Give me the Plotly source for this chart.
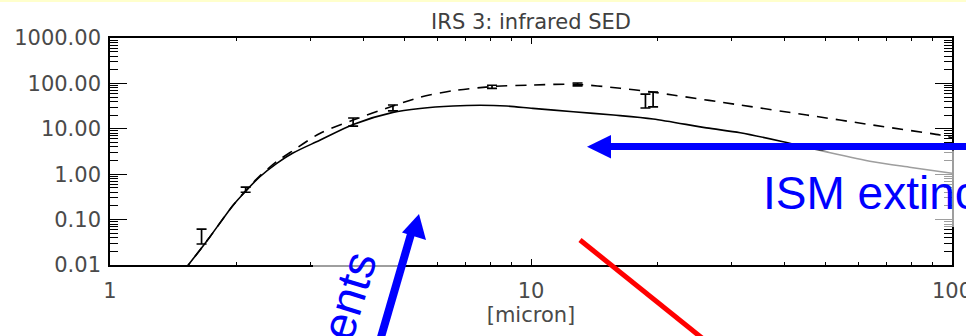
import plotly.graph_objects as go

# ---------------- data ----------------
model_x = [1.5, 1.535, 1.636, 1.728, 1.963, 2.104, 2.27, 2.49, 2.72, 3.15, 3.78, 4.7,
           5.45, 6.53, 7.57, 8.75, 10.1, 12.6, 15.7, 19.5, 26.1, 31.4, 39.7, 50.4, 64.9, 80, 100]
model_solid = [0.007, 0.01, 0.0214, 0.042, 0.21, 0.43, 0.88, 1.74, 2.93, 5.6, 12.5, 23.0,
               28.0, 31.8, 33, 31.8, 28.2, 23.8, 20.1, 16.5, 10.5, 8.2, 5.2, 3.1, 1.88, 1.41, 1.05]

dashed_x = [1.5, 1.535, 1.636, 1.728, 1.963, 2.104, 2.27, 2.49, 2.72, 3.15, 3.78, 4.7,
            5.45, 6.53, 8.06, 10.1, 12.8, 16.3, 19.2, 21.7, 31.4, 45.2, 64.9, 93.6, 100]
model_dashed = [0.007, 0.01, 0.0214, 0.042, 0.21, 0.44, 0.92, 1.9, 3.3, 7.9, 15.6, 31.8,
                49.5, 69, 85, 92, 95.6, 78, 65.6, 55.6, 33.4, 20.1, 12.1, 7.3, 6.4]

obs_x = [1.65, 2.1, 3.78, 4.7, 8.08, 12.9, 18.7, 19.5]
obs_y = [0.042, 0.46, 14.0, 29.0, 84.0, 95.0, 41.0, 44.0]
obs_err_plus = [0.020, 0.06, 3.3, 4.4, 7.0, 7.0, 17.0, 20.6]
obs_err_minus = [0.013, 0.06, 2.5, 4.3, 6.0, 7.0, 12.3, 13.7]

x_tickvals = [1, 10, 100]
x_ticktext = ["1", "10", "100"]
y_tickvals = [0.01, 0.1, 1, 10, 100, 1000]
y_ticktext = ["0.01", "0.10", "1.00", "10.00", "100.00", "1000.00"]
minor_digits = [1, 2, 3, 4, 5, 6, 7, 8, 9]

title_text = "IRS 3: infrared SED"
xaxis_title = "[micron]"
label_ism = "ISM extinction"
label_ents = "ents"

# ---------------- layout geometry ----------------
W, H = 966, 336
L, R, T, B = 110, 14, 38, 71
PW, PH = W - L - R, H - T - B


def px(xp):
    return (xp - L) / PW


def py(yp):
    return (H - B - yp) / PH


def all_ticks(decades):
    vals = []
    for d in decades:
        for m in minor_digits:
            v = d * m
            if v <= decades[-1]:
                vals.append(v)
    return vals


x_all = all_ticks(x_tickvals)
y_all = all_ticks(y_tickvals)
x_labels = [x_ticktext[x_tickvals.index(v)] if v in x_tickvals else "" for v in x_all]
y_labels = [y_ticktext[y_tickvals.index(v)] if v in y_tickvals else "" for v in y_all]

fig = go.Figure()

fig.add_trace(go.Scatter(x=model_x, y=model_solid, mode="lines",
                         line=dict(color="black", width=1.6, shape="spline", smoothing=0.8),
                         showlegend=False))
fig.add_trace(go.Scatter(x=dashed_x, y=model_dashed, mode="lines",
                         line=dict(color="black", width=1.6, dash="11px,8px",
                                   shape="spline", smoothing=0.8),
                         showlegend=False))
fig.add_trace(go.Scatter(x=obs_x, y=obs_y, mode="markers",
                         marker=dict(size=2, color="rgba(0,0,0,0)"),
                         error_y=dict(type="data", symmetric=False, array=obs_err_plus,
                                      arrayminus=obs_err_minus, color="black",
                                      thickness=1.7, width=5),
                         showlegend=False))
# invisible trace so the overlay axes (major ticks) are drawn
fig.add_trace(go.Scatter(x=[1, 100], y=[0.01, 1000], xaxis="x2", yaxis="y2", mode="markers",
                         marker=dict(size=1, color="rgba(0,0,0,0)"), showlegend=False,
                         hoverinfo="skip"))

tick_font = dict(family="DejaVu Sans", size=21, color="#4a4a4a")

fig.update_layout(
    width=W, height=H,
    margin=dict(l=L, r=R, t=T, b=B, pad=0),
    paper_bgcolor="white", plot_bgcolor="white",
    title=dict(text=title_text, x=(L + PW / 2) / W, xanchor="center",
               y=1 - 22 / H, yanchor="middle", yref="container",
               font=dict(family="DejaVu Sans", size=21, color="#404040")),
    xaxis=dict(type="log", range=[0, 2], tickmode="array", tickvals=x_all,
               ticktext=x_labels, ticks="inside", ticklen=3, tickwidth=1.2,
               tickcolor="black", showline=True, linecolor="black", linewidth=1.6,
               mirror="allticks", showgrid=False, zeroline=False, tickfont=tick_font,
               ticklabelstandoff=6, ticklabeloverflow="allow", automargin=False,
               title=dict(text=xaxis_title, font=tick_font, standoff=1)),
    yaxis=dict(type="log", range=[-2, 3], tickmode="array", tickvals=y_all,
               ticktext=y_labels, ticks="inside", ticklen=8, tickwidth=1.2,
               tickcolor="black", showline=True, linecolor="black", linewidth=1.6,
               mirror="allticks", showgrid=False, zeroline=False, tickfont=tick_font,
               ticklabelstandoff=3, ticklabeloverflow="allow", automargin=False),
    xaxis2=dict(type="log", range=[0, 2], overlaying="x", anchor="y", side="bottom",
                tickmode="array", tickvals=x_tickvals, ticks="inside", ticklen=6,
                tickwidth=1.3, tickcolor="black", showticklabels=False, showline=False,
                mirror="allticks", showgrid=False, zeroline=False, automargin=False),
    yaxis2=dict(type="log", range=[-2, 3], overlaying="y", anchor="x", side="left",
                tickmode="array", tickvals=y_tickvals, ticks="inside", ticklen=17,
                tickwidth=1.3, tickcolor="black", showticklabels=False, showline=False,
                mirror="allticks", showgrid=False, zeroline=False, automargin=False),
)

shapes = []
# thin pale-yellow slide border at the very top
shapes.append(dict(type="rect", xref="paper", yref="paper", x0=px(0), x1=px(W),
                   y0=py(2), y1=py(0), fillcolor="#FFFFCC", line=dict(width=0), layer="above"))
# semi-transparent white text boxes from the slide
shapes.append(dict(type="rect", xref="paper", yref="paper", x0=px(760), x1=px(W + 5),
                   y0=py(227), y1=py(150.5), fillcolor="rgba(255,255,255,0.62)",
                   line=dict(width=0), layer="above"))
shapes.append(dict(type="rect", xref="paper", yref="paper", x0=px(313), x1=px(398),
                   y0=py(H + 5), y1=py(256), fillcolor="rgba(255,255,255,0.62)",
                   line=dict(width=0), layer="above"))
# horizontal blue arrow
shapes.append(dict(type="line", xref="paper", yref="paper", x0=px(W + 10), x1=px(608),
                   y0=py(146.5), y1=py(146.5), line=dict(color="#0000FF", width=7), layer="above"))
shapes.append(dict(type="path", xref="paper", yref="paper",
                   path=f"M {px(587)},{py(146.7)} L {px(611)},{py(135)} L {px(611)},{py(158.4)} Z",
                   fillcolor="#0000FF", line=dict(width=0), layer="above"))
# slanted blue arrow
shapes.append(dict(type="line", xref="paper", yref="paper", x0=px(379), x1=px(411),
                   y0=py(H + 8), y1=py(234), line=dict(color="#0000FF", width=8), layer="above"))
shapes.append(dict(type="path", xref="paper", yref="paper",
                   path=f"M {px(419)},{py(214)} L {px(426)},{py(240)} L {px(402)},{py(232.5)} Z",
                   fillcolor="#0000FF", line=dict(width=0), layer="above"))
# red line
shapes.append(dict(type="line", xref="paper", yref="paper", x0=px(580), x1=px(702),
                   y0=py(240), y1=py(H + 2), line=dict(color="#FF0000", width=5), layer="above"))
fig.update_layout(shapes=shapes)

fig.add_annotation(xref="paper", yref="paper", x=px(761), y=py(193), xanchor="left",
                   yanchor="middle", text=label_ism, showarrow=False,
                   font=dict(family="Liberation Sans, Arial", size=46, color="#0000FF"))
fig.add_annotation(xref="paper", yref="paper", x=px(348), y=py(296), xanchor="center",
                   yanchor="middle", text=label_ents, showarrow=False, textangle=-73,
                   font=dict(family="Liberation Sans, Arial", size=47, color="#0000FF"))

fig.write_html("out.html")
